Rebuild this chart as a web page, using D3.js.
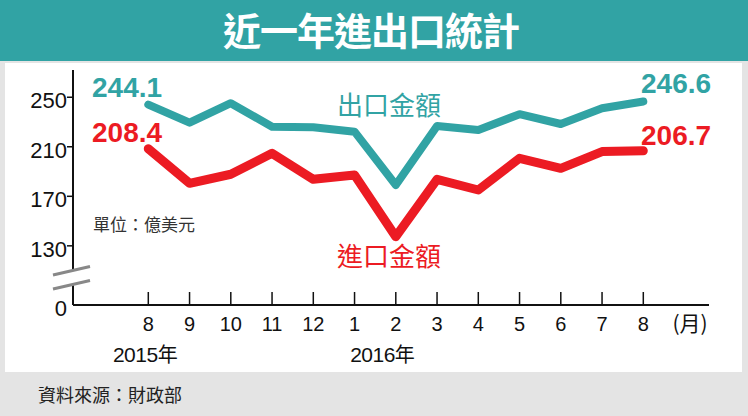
<!DOCTYPE html>
<html><head><meta charset="utf-8">
<script src="https://cdn.jsdelivr.net/npm/d3@7"></script>
<style>html,body{margin:0;padding:0;background:#e4e4e4;}svg{display:block;}</style>
</head><body>
<svg id="chart" width="748" height="416"></svg>
<script>
const months = ["8","9","10","11","12","1","2","3","4","5","6","7","8"];
const exportVals = [244.1,229.5,245.2,226.2,225.7,222.2,179.1,226.8,223.6,236.3,228.4,241.1,246.6];
const importVals = [208.4,180.5,187.8,204.7,183.7,187.2,137.4,183.7,175.1,200.7,192.6,206.1,206.7];
const yTicks = [0,130,170,210,250];
const yearLabels = [{y:"2015",i:0},{y:"2016",i:5.75}];

const svg = d3.select("#chart");
const teal = "#31a3a4", red = "#ec1b23";
const font = "'Liberation Sans', Arial, sans-serif";
const cjk = "'Noto Sans CJK TC', 'Noto Sans CJK SC', sans-serif";

// backgrounds
svg.append("rect").attr("x",0).attr("y",0).attr("width",748).attr("height",416).attr("fill","#e4e4e4");
svg.append("rect").attr("x",0).attr("y",0).attr("width",748).attr("height",61).attr("fill",teal);
svg.append("rect").attr("x",5).attr("y",63).attr("width",737).attr("height",309).attr("fill","#ffffff");
svg.append("text").attr("x",371).attr("y",45).attr("text-anchor","middle")
  .attr("fill","#fff").attr("font-family",cjk).attr("font-weight","bold").attr("font-size",38)
  .attr("letter-spacing",-1).text("近一年進出口統計");

const x = d3.scalePoint().domain(d3.range(months.length)).range([148.3,643.3]);
const y = d3.scaleLinear().domain([0,110,272]).range([305,270.6,70]);

// axes lines
const g = svg.append("g");
g.append("line").attr("x1",73).attr("x2",709).attr("y1",305).attr("y2",305).attr("stroke","#111").attr("stroke-width",2);
g.append("line").attr("x1",73).attr("x2",73).attr("y1",70).attr("y2",305).attr("stroke","#111").attr("stroke-width",2);

// y ticks
yTicks.forEach(v=>{
  if(v>0) g.append("line").attr("x1",67).attr("x2",73).attr("y1",y(v)).attr("y2",y(v)).attr("stroke","#111").attr("stroke-width",1.5);
  g.append("text").attr("x",67).attr("y",y(v)+11).attr("text-anchor","end")
   .attr("font-family",font).attr("font-size",22).attr("fill","#111").text(v);
});

// x ticks
months.forEach((m,i)=>{
  g.append("line").attr("x1",x(i)).attr("x2",x(i)).attr("y1",292).attr("y2",305).attr("stroke","#111").attr("stroke-width",1.5);
  g.append("text").attr("x",x(i)).attr("y",331).attr("text-anchor","middle")
   .attr("font-family",font).attr("font-size",20).attr("fill","#111").text(m);
});
g.append("text").attr("x",690).attr("y",331).attr("text-anchor","middle")
 .attr("font-family",cjk).attr("font-size",21).attr("fill","#111").text("(月)");
yearLabels.forEach(d=>{
  const t = g.append("text").attr("x",x(0)+d.i*(x(1)-x(0))-3).attr("y",362).attr("text-anchor","middle").attr("fill","#111");
  t.append("tspan").attr("font-family",font).attr("font-size",21).attr("letter-spacing",-0.5).text(d.y);
  t.append("tspan").attr("font-family",cjk).attr("font-size",20).text("年");
});

// axis break
g.append("polygon").attr("points","52,276 90,267 90,280 52,290").attr("fill","#fff");
g.append("line").attr("x1",53).attr("y1",275).attr("x2",90).attr("y2",266.5).attr("stroke","#888").attr("stroke-width",3);
g.append("line").attr("x1",53).attr("y1",289).attr("x2",90).attr("y2",280.5).attr("stroke","#888").attr("stroke-width",3);

// unit
g.append("text").attr("x",93).attr("y",231).attr("font-family",cjk).attr("font-size",17).attr("fill","#333").text("單位：億美元");

// lines
const line = d3.line().x((d,i)=>x(i)).y(d=>y(d));
g.append("path").datum(exportVals).attr("d",line).attr("fill","none").attr("stroke",teal)
 .attr("stroke-width",8).attr("stroke-linejoin","round").attr("stroke-linecap","round");
g.append("path").datum(importVals).attr("d",line).attr("fill","none").attr("stroke",red)
 .attr("stroke-width",9).attr("stroke-linejoin","round").attr("stroke-linecap","round");

// value labels
const n = months.length-1;
function vlabel(txt,xx,yy,c){
  g.append("text").attr("x",xx).attr("y",yy).attr("text-anchor","start")
   .attr("font-family",font).attr("font-weight","bold").attr("font-size",28).attr("fill",c).text(txt);
}
vlabel(exportVals[0].toFixed(1),92,97,teal);
vlabel(importVals[0].toFixed(1),92,142,red);
vlabel(exportVals[n].toFixed(1),641,93,teal);
vlabel(importVals[n].toFixed(1),641,145,red);

// series labels
g.append("text").attr("x",337).attr("y",115).attr("font-family",cjk).attr("font-size",26).attr("fill",teal).text("出口金額");
g.append("text").attr("x",337).attr("y",266).attr("font-family",cjk).attr("font-size",26).attr("fill",red).text("進口金額");

// source
svg.append("text").attr("x",38).attr("y",402).attr("font-family",cjk).attr("font-size",18).attr("fill","#222").text("資料來源：財政部");
</script>
</body></html>
